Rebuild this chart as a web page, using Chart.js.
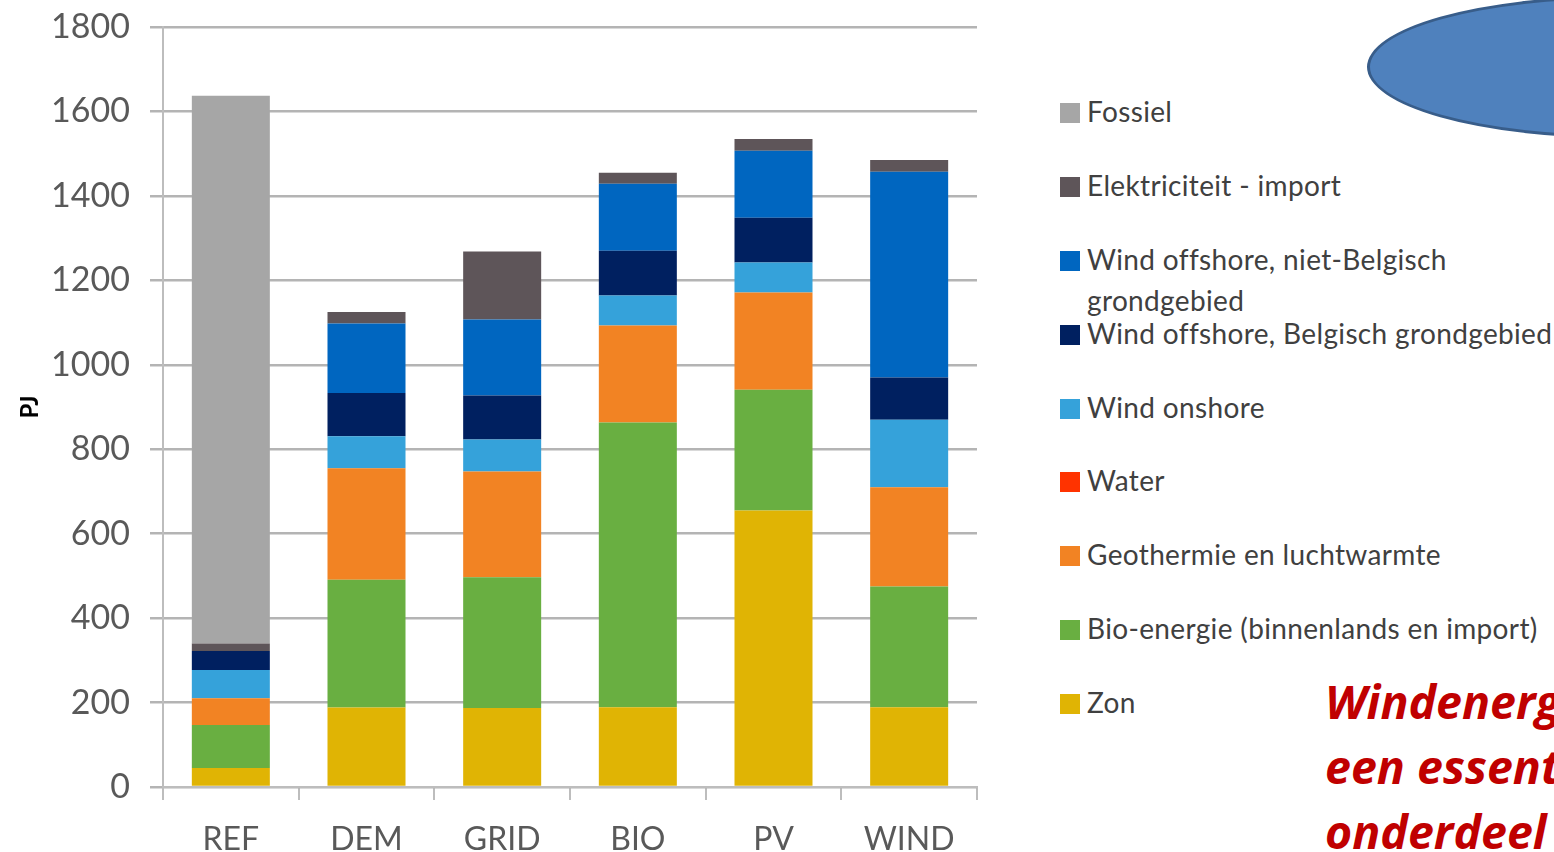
<!DOCTYPE html>
<html>
<head>
<meta charset="utf-8">
<script src="https://cdn.jsdelivr.net/npm/chart.js@4.4.1/dist/chart.umd.min.js"></script>
<style>
  html, body { margin: 0; padding: 0; background: #fff; width: 1554px; height: 852px; overflow: hidden; }
  #wrap { position: absolute; left: 0; top: 0; width: 1000px; height: 852px; }
  #legend { position: absolute; left: 1060px; top: 94px; font-family: Lato, sans-serif; font-size: 28px; letter-spacing: 0.35px; color: #404040; }
  .item { position: relative; height: 73.9px; }
  .sw { position: absolute; left: 0; top: 9px; width: 20px; height: 20px; }
  .tx { position: absolute; left: 27px; top: 0; line-height: 41px; white-space: nowrap; margin-top: -3px; }
  #oval { position: absolute; left: 1367px; top: -4px; width: 500px; height: 142px; border-radius: 50%;
          background: #4F81BD; border: 3px solid #385D8A; box-sizing: border-box; }
  #note { position: absolute; left: 1325px; top: 669px; font-family: "Open Sans", sans-serif; font-weight: 700; font-style: italic;
          font-size: 46.5px; line-height: 65px; color: #C00000; white-space: nowrap; }
</style>
</head>
<body>
<div id="wrap"><canvas id="c"></canvas></div>
<div id="oval"></div>
<div id="legend"></div>
<div id="note">Windenergie is<br>een essentieel<br>onderdeel</div>
<script>
// Scenarios and primary energy supply per source (PJ)
const scenarios = ['REF', 'DEM', 'GRID', 'BIO', 'PV', 'WIND'];
const zon          = [45, 188, 187, 189, 655, 189];
const bioEnergie   = [102, 303, 310, 674, 286, 286];
const geothermie   = [63, 264, 250, 230, 230, 235];
const water        = [0, 0, 0, 0, 0, 0];
const windOnshore  = [67, 76, 76, 71, 71, 160];
const windOffBe    = [45, 102, 104, 106, 106, 100];
const windOffNietBe= [0, 165, 180, 159, 159, 487];
const elekImport   = [18, 27, 161, 26, 28, 28];
const fossiel      = [1297, 0, 0, 0, 0, 0];
const yTicks = [0, 200, 400, 600, 800, 1000, 1200, 1400, 1600, 1800];

// Stacked from the bottom up
const series = [
  { label: 'Zon', data: zon, color: '#E0B404' },
  { label: 'Bio-energie (binnenlands en import)', data: bioEnergie, color: '#69AF41' },
  { label: 'Geothermie en luchtwarmte', data: geothermie, color: '#F28323' },
  { label: 'Water', data: water, color: '#FF3300' },
  { label: 'Wind onshore', data: windOnshore, color: '#35A2DA' },
  { label: 'Wind offshore, Belgisch grondgebied', data: windOffBe, color: '#002060' },
  { label: 'Wind offshore, niet-Belgisch grondgebied', data: windOffNietBe, color: '#0066C0', wrap: ['Wind offshore, niet-Belgisch', 'grondgebied'] },
  { label: 'Elektriciteit - import', data: elekImport, color: '#5E5559' },
  { label: 'Fossiel', data: fossiel, color: '#A6A6A6' }
];

const canvas = document.getElementById('c');
canvas.width = 1000; canvas.height = 852;

new Chart(canvas, {
  type: 'bar',
  data: {
    labels: scenarios,
    datasets: series.map(s => ({
      label: s.label,
      data: s.data,
      backgroundColor: s.color,
      borderWidth: 0,
      categoryPercentage: 1,
      barPercentage: 0.575
    }))
  },
  options: {
    responsive: false,
    animation: false,
    devicePixelRatio: 1,
    layout: { padding: { top: 27, right: 23, left: 0, bottom: 0 } },
    plugins: { legend: { display: false }, tooltip: { enabled: false } },
    scales: {
      x: {
        stacked: true,
        grid: { display: true, drawOnChartArea: false, drawTicks: true, tickLength: 13, color: '#BDBDBD', lineWidth: 2, offset: true },
        border: { display: true, color: '#BDBDBD', width: 2 },
        ticks: { color: '#595959', font: { family: 'Lato', size: 32 }, padding: 20, autoSkip: false, maxRotation: 0 },
        afterFit: s => { s.height = 65; s.paddingLeft = 0; s.paddingRight = 0; }
      },
      y: {
        stacked: true,
        min: 0, max: 1800,
        afterBuildTicks: s => { s.ticks = yTicks.map(v => ({ value: v })); },
        grid: { color: '#B4B4B4', lineWidth: 2.5, tickLength: 13 },
        border: { display: true, color: '#BDBDBD', width: 2 },
        ticks: { color: '#595959', font: { family: 'Lato', size: 34 }, padding: 20, callback: v => String(v) },
        title: { display: true, text: 'PJ', color: '#000', font: { family: 'Lato', size: 24, weight: 'bold' }, padding: { top: 16, bottom: 0 } },
        afterFit: s => { s.width = 163; s.paddingTop = 0; s.paddingBottom = 0; }
      }
    }
  }
});

// Legend, top entry is the top of the stack
const legend = document.getElementById('legend');
series.slice().reverse().forEach(s => {
  const row = document.createElement('div');
  row.className = 'item';
  const sw = document.createElement('div');
  sw.className = 'sw';
  sw.style.background = s.color;
  const tx = document.createElement('div');
  tx.className = 'tx';
  (s.wrap || [s.label]).forEach((line, i) => {
    if (i) tx.appendChild(document.createElement('br'));
    tx.appendChild(document.createTextNode(line));
  });
  row.appendChild(sw);
  row.appendChild(tx);
  legend.appendChild(row);
});
</script>
</body>
</html>
